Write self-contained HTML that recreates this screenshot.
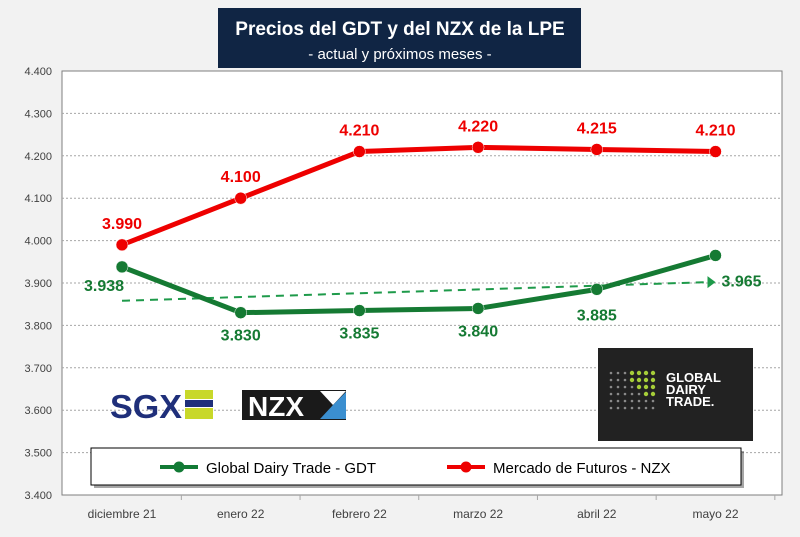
<!DOCTYPE html>
<html><head><meta charset="utf-8"><style>
body{margin:0;width:800px;height:532px;background:#f2f2f2;font-family:"Liberation Sans",sans-serif;overflow:hidden}
svg text{font-family:"Liberation Sans",sans-serif}
</style></head><body>
<svg id="c" width="800" height="532" xmlns="http://www.w3.org/2000/svg">
<rect x="0" y="0" width="800" height="532" fill="#f2f2f2"/>
<rect x="62" y="71" width="720" height="424" fill="#fff" stroke="#7f7f7f" stroke-width="1"/>
<g id="grid"></g>
<g id="yt"></g>
<g id="xt"></g>
<g>
<rect x="218" y="8" width="363" height="60" fill="#102544"/>
<text x="400" y="35" fill="#fff" font-size="19" font-weight="bold" text-anchor="middle">Precios del GDT y del NZX de la LPE</text>
<text x="400" y="59" fill="#fff" font-size="15" text-anchor="middle">- actual y próximos meses -</text>
</g>
<g id="trend"></g>
<g id="series"></g>
<g>
<text x="110" y="418" font-size="33" font-weight="bold" fill="#1f2f7a" textLength="72" lengthAdjust="spacingAndGlyphs">SGX</text>
<rect x="185" y="390" width="28" height="9" fill="#c8d82a"/><rect x="185" y="400" width="28" height="7" fill="#1f2f7a"/><rect x="185" y="408" width="28" height="11" fill="#c8d82a"/>
</g>
<g>
<rect x="242" y="390" width="104" height="30" fill="#1a1a1a"/>
<text x="248" y="416" font-size="28" font-weight="bold" fill="#fff">NZX</text>
<polygon points="320,391 346,391 333,405" fill="#fff"/><polygon points="320,419 346,419 346,392 333,405" fill="#3b8fd0"/>
</g>
<g>
<rect x="598" y="348" width="155" height="93" fill="#222"/>
<text x="666" y="382" font-size="13" font-weight="bold" fill="#fff">GLOBAL</text>
<text x="666" y="394" font-size="13" font-weight="bold" fill="#fff">DAIRY</text>
<text x="666" y="406" font-size="13" font-weight="bold" fill="#fff">TRADE.</text>
<g id="dots"></g>
</g>
<g>
<rect x="94" y="451" width="650" height="37" fill="#000" opacity="0.35"/>
<rect x="91" y="448" width="650" height="37" fill="#fff" stroke="#000" stroke-width="1"/>
<line x1="160" y1="467" x2="198" y2="467" stroke="#127a35" stroke-width="4"/><circle cx="179" cy="467" r="5.5" fill="#127a35"/>
<text x="206" y="473" font-size="15" fill="#000">Global Dairy Trade - GDT</text>
<line x1="447" y1="467" x2="485" y2="467" stroke="#e00" stroke-width="4"/><circle cx="466" cy="467" r="5.5" fill="#e00"/>
<text x="493" y="473" font-size="15" fill="#000">Mercado de Futuros - NZX</text>
</g>
</svg>
<script>
const categories=["diciembre 21","enero 22","febrero 22","marzo 22","abril 22","mayo 22"];
const nzxValues=[3.990,4.100,4.210,4.220,4.215,4.210];
const gdtValues=[3.938,3.830,3.835,3.840,3.885,3.965];
const yTicks=[3.4,3.5,3.6,3.7,3.8,3.9,4.0,4.1,4.2,4.3,4.4];
const trendValues=[3.858,3.902];
const NS="http://www.w3.org/2000/svg";
const y=v=>71+(4.4-v)*424;
const x=i=>122+118.7*i;
function mk(p,t,a){const e=document.createElementNS(NS,t);for(const k in a)e.setAttribute(k,a[k]);document.getElementById(p)?document.getElementById(p).appendChild(e):p.appendChild(e);return e;}
const fmt=v=>v.toFixed(3);
yTicks.forEach(v=>{
 if(v>3.4&&v<4.4){const g=mk("grid","line",{x1:62,x2:782,y1:y(v),y2:y(v),stroke:"#a6a6a6","stroke-dasharray":"2,2"});
 
 }
 const t=mk("yt","text",{x:52,y:y(v)+4,"font-size":"11","text-anchor":"end",fill:"#404040"});t.textContent=fmt(v);
 
 
});
categories.forEach((c,i)=>{
 mk("xt","line",{x1:x(i)+59.35,x2:x(i)+59.35,y1:495,y2:500,stroke:"#a6a6a6"});
 const t=mk("xt","text",{x:x(i),y:518,"font-size":"12","text-anchor":"middle",fill:"#404040"});t.textContent=c;
 
 
});
const tl=mk("trend","line",{x1:x(0),y1:y(trendValues[0]),x2:x(5)-8,y2:y(trendValues[1]),stroke:"#1e9a4a","stroke-width":"2","stroke-dasharray":"8,6"});


const ah=mk("trend","polygon",{points:`${x(5)-8},${y(trendValues[1])-6} ${x(5)},${y(trendValues[1])} ${x(5)-8},${y(trendValues[1])+6}`,fill:"#1e9a4a"});


function series(vals,color,name,labelPos){
 const pl=mk("series","polyline",{points:vals.map((v,i)=>x(i)+","+y(v)).join(" "),fill:"none",stroke:color,"stroke-width":"5","stroke-linejoin":"round"});
 
 
 vals.forEach((v,i)=>{
  const c=mk("series","circle",{cx:x(i),cy:y(v),r:6,fill:color,stroke:"#fff","stroke-width":"0.5"});
  
  
  const [dx,dy]=labelPos(i);
  const t=mk("series","text",{x:x(i)+dx,y:y(v)+dy,"font-size":"16","font-weight":"bold","text-anchor":"middle",fill:color});
  t.textContent=fmt(v);
  
  
 });
}
series(nzxValues,"#ee0000","nzx",i=>[0,-16]);
series(gdtValues,"#157a33","gdt",i=>i==0?[-18,24]:i==5?[26,31]:i==4?[0,31]:[0,28]);
const dots=document.getElementById("dots");
for(let r=0;r<6;r++)for(let c=0;c<7;c++){
 const lit=c>=3&&r<4&&c>r+1;
 mk(dots,"circle",{cx:611+c*7,cy:373+r*7,r:lit?2.2:1.3,fill:lit?"#a6ce39":"#8a8a8a"});
}
</script>
</body></html>
